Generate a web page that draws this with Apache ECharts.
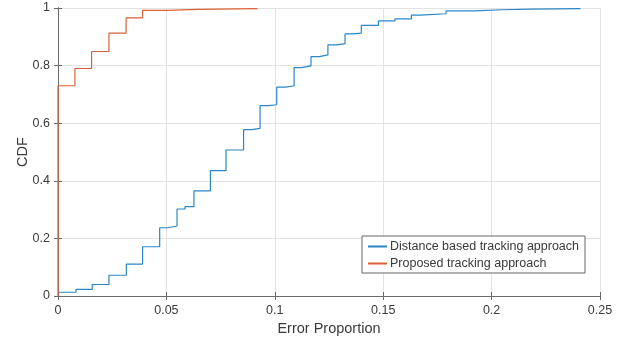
<!DOCTYPE html>
<html>
<head>
<meta charset="utf-8">
<script src="https://cdn.jsdelivr.net/npm/echarts@6/dist/echarts.min.js"></script>
<style>
  html, body { margin: 0; padding: 0; background: #fff; }
  #cdf { width: 638px; height: 345px; }
</style>
</head>
<body>
<div id="cdf"></div>
<script>
  // step points: at x the CDF jumps to y
  var distX = [0, 0.0083, 0.0158, 0.0235, 0.0315, 0.039, 0.0469, 0.0507, 0.0549, 0.0586, 0.0627, 0.0703, 0.0775, 0.0856, 0.0893, 0.0932, 0.097, 0.1009, 0.105, 0.1089, 0.1124, 0.1167, 0.1205, 0.1245, 0.1285, 0.1324, 0.136, 0.1399, 0.1478, 0.1554, 0.163, 0.167, 0.179, 0.192, 0.205, 0.218, 0.241];
  var distY = [0.013, 0.023, 0.04, 0.072, 0.111, 0.171, 0.237, 0.243, 0.302, 0.31, 0.365, 0.435, 0.507, 0.578, 0.582, 0.661, 0.664, 0.725, 0.73, 0.793, 0.799, 0.831, 0.837, 0.872, 0.876, 0.91, 0.913, 0.94, 0.955, 0.962, 0.975, 0.98, 0.99, 0.994, 0.996, 0.998, 1];
  var propX = [0, 0, 0.0078, 0.0155, 0.0235, 0.0314, 0.039, 0.05, 0.065, 0.092];
  var propY = [0, 0.73, 0.79, 0.849, 0.913, 0.966, 0.992, 0.995, 0.998, 1];
  var seriesNames = ['Distance based tracking approach', 'Proposed tracking approach'];

  function pairs(xs, ys) {
    return xs.map(function (x, i) { return [x, ys[i]]; });
  }

  var txt = '#3a3a3a';
  var font = 'Liberation Sans';
  var lineCol = '#6a6a6a';
  var gridCol = '#e3e3e3';

  var chart = echarts.init(document.getElementById('cdf'));
  chart.setOption({
    animation: false,
    textStyle: { fontFamily: font },
    grid: { left: 58, right: 38, top: 8, bottom: 49 },
    legend: {
      orient: 'vertical',
      left: 362,
      top: 236,
      padding: [4, 6, 3, 5],
      itemGap: 4,
      itemWidth: 19,
      itemHeight: 1,
      backgroundColor: '#fff',
      borderColor: '#666',
      borderWidth: 1,
      borderRadius: 0,
      textStyle: { color: txt, fontSize: 12.5, fontFamily: font, padding: [0, 0, 0, -2] },
      data: seriesNames
    },
    xAxis: [{
      type: 'value',
      min: 0, max: 0.25, interval: 0.05,
      name: 'Error Proportion',
      nameLocation: 'middle',
      nameGap: 25,
      nameMoveOverlap: false,
      nameTextStyle: { color: txt, fontSize: 14.5, fontFamily: font },
      axisLine: { show: true, lineStyle: { color: lineCol } },
      axisTick: { show: true, inside: true, length: 4, lineStyle: { color: lineCol } },
      axisLabel: { color: txt, fontSize: 12.5, margin: 8 },
      splitLine: { show: true, lineStyle: { color: gridCol } }
    }, {
      type: 'value', position: 'top',
      min: 0, max: 0.25, interval: 0.05,
      axisLine: { show: true, lineStyle: { color: lineCol } },
      axisTick: { show: true, inside: true, length: 4, lineStyle: { color: lineCol } },
      axisLabel: { show: false },
      splitLine: { show: false }
    }],
    yAxis: [{
      type: 'value',
      min: 0, max: 1, interval: 0.2,
      name: 'CDF',
      nameLocation: 'middle',
      nameGap: 28,
      nameMoveOverlap: false,
      nameTextStyle: { color: txt, fontSize: 14.5, fontFamily: font },
      axisLine: { show: true, lineStyle: { color: lineCol } },
      axisTick: { show: true, inside: true, length: 4, lineStyle: { color: lineCol } },
      axisLabel: { color: txt, fontSize: 12.5, margin: 8 },
      splitLine: { show: true, lineStyle: { color: gridCol } }
    }, {
      type: 'value', position: 'right',
      min: 0, max: 1, interval: 0.2,
      axisLine: { show: true, lineStyle: { color: lineCol } },
      axisTick: { show: true, inside: true, length: 4, lineStyle: { color: lineCol } },
      axisLabel: { show: false },
      splitLine: { show: false }
    }],
    series: [{
      name: seriesNames[0],
      type: 'line',
      step: 'end',
      symbol: 'none',
      legendIcon: 'rect',
      color: '#2a86c6',
      lineStyle: { width: 1.2 },
      data: pairs(distX, distY)
    }, {
      name: seriesNames[1],
      type: 'line',
      step: 'end',
      symbol: 'none',
      legendIcon: 'rect',
      color: '#DA6236',
      lineStyle: { width: 1.2 },
      data: pairs(propX, propY)
    }]
  });
</script>
</body>
</html>
